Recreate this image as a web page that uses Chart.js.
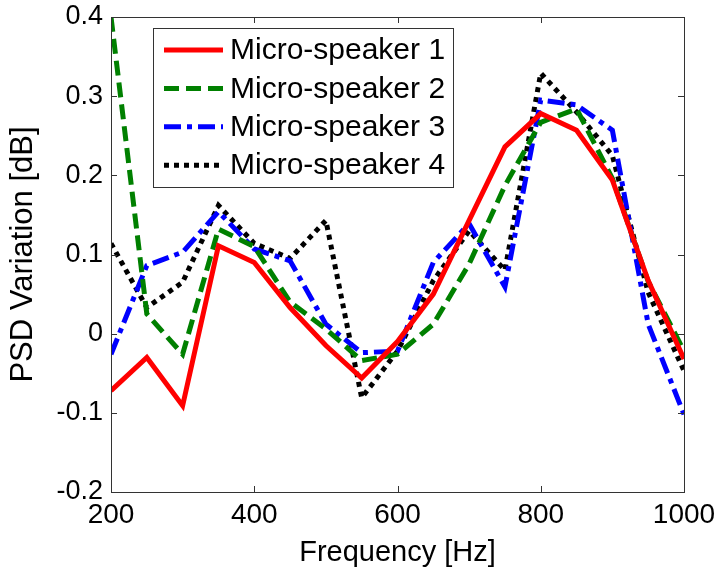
<!DOCTYPE html>
<html>
<head>
<meta charset="utf-8">
<script src="https://cdn.jsdelivr.net/npm/chart.js@4.4.1/dist/chart.umd.min.js"></script>
<style>
  html, body { margin: 0; padding: 0; background: #ffffff; }
  #wrap { width: 718px; height: 570px; position: relative; }
</style>
</head>
<body>
<div id="wrap"><canvas id="c" width="718" height="570"></canvas></div>
<script>
// ---- data ----
const frequencies = [200, 250, 300, 350, 400, 450, 500, 550, 600, 650, 700, 750, 800, 850, 900, 950, 1000];
const seriesNames = ['Micro-speaker 1', 'Micro-speaker 2', 'Micro-speaker 3', 'Micro-speaker 4'];
const speaker1 = [-0.072, -0.030, -0.091, 0.111, 0.090, 0.033, -0.015, -0.056, -0.010, 0.050, 0.143, 0.236, 0.278, 0.257, 0.194, 0.067, -0.032];
const speaker2 = [0.400, 0.025, -0.026, 0.132, 0.110, 0.040, 0.006, -0.034, -0.026, 0.012, 0.088, 0.187, 0.267, 0.284, 0.196, 0.066, -0.022];
const speaker3 = [-0.026, 0.086, 0.103, 0.154, 0.107, 0.092, 0.012, -0.024, -0.022, 0.090, 0.139, 0.059, 0.295, 0.289, 0.257, 0.012, -0.102];
const speaker4 = [0.114, 0.033, 0.065, 0.162, 0.114, 0.095, 0.143, -0.081, -0.022, 0.067, 0.130, 0.080, 0.329, 0.280, 0.225, 0.052, -0.047];
const xTickValues = [200, 400, 600, 800, 1000];
const xTickLabels = ['200', '400', '600', '800', '1000'];
const yTickValues = [-0.2, -0.1, 0, 0.1, 0.2, 0.3, 0.4];
const yTickLabels = ['-0.2', '-0.1', '0', '0.1', '0.2', '0.3', '0.4'];
const xTitle = 'Frequency [Hz]';
const yTitle = 'PSD Variation [dB]';

// ---- styles ----
const FONT = '"Liberation Sans", Arial, Helvetica, sans-serif';
const styles = [
  { color: '#ff0000', dash: [] },
  { color: '#008000', dash: [15, 7] },
  { color: '#0000ff', dash: [17, 6, 5, 6] },
  { color: '#000000', dash: [5, 5] }
];
const allSeries = [speaker1, speaker2, speaker3, speaker4];

const datasets = allSeries.map((vals, i) => ({
  label: seriesNames[i],
  data: frequencies.map((f, j) => ({ x: f, y: vals[j] })),
  borderColor: styles[i].color,
  backgroundColor: styles[i].color,
  borderDash: styles[i].dash,
  borderWidth: 5,
  borderCapStyle: 'butt',
  borderJoinStyle: 'miter',
  pointRadius: 0,
  tension: 0,
  fill: false
}));

// frame + inward ticks (MATLAB style), drawn through the scales
const framePlugin = {
  id: 'frame',
  afterDatasetsDraw(chart) {
    const { ctx, chartArea: a, scales } = chart;
    ctx.save();
    ctx.strokeStyle = '#333333';
    ctx.lineWidth = 1;
    ctx.setLineDash([]);
    ctx.strokeRect(Math.round(a.left) + 0.5, Math.round(a.top) + 0.5,
                   Math.round(a.right - a.left), Math.round(a.bottom - a.top));
    const tl = 6;
    ctx.beginPath();
    xTickValues.forEach(v => {
      const px = Math.round(scales.x.getPixelForValue(v)) + 0.5;
      ctx.moveTo(px, a.bottom); ctx.lineTo(px, a.bottom - tl);
      ctx.moveTo(px, a.top); ctx.lineTo(px, a.top + tl);
    });
    yTickValues.forEach(v => {
      const py = Math.round(scales.y.getPixelForValue(v)) + 0.5;
      ctx.moveTo(a.left, py); ctx.lineTo(a.left + tl, py);
      ctx.moveTo(a.right, py); ctx.lineTo(a.right - tl, py);
    });
    ctx.stroke();
    ctx.restore();
  }
};

// boxed legend inside the plot (upper left)
const legendPlugin = {
  id: 'boxLegend',
  afterDraw(chart) {
    const { ctx } = chart;
    const boxL = 153, boxT = 28, boxW = 300, boxH = 159;
    const rowH = 38.4, firstRow = 50;
    ctx.save();
    ctx.fillStyle = '#ffffff';
    ctx.fillRect(boxL, boxT, boxW, boxH);
    ctx.strokeStyle = '#333333';
    ctx.lineWidth = 1;
    ctx.setLineDash([]);
    ctx.strokeRect(boxL + 0.5, boxT + 0.5, boxW, boxH);
    chart.data.datasets.forEach((ds, i) => {
      const y = firstRow + i * rowH;
      ctx.beginPath();
      ctx.strokeStyle = ds.borderColor;
      ctx.lineWidth = ds.borderWidth;
      ctx.lineCap = 'butt';
      ctx.setLineDash(ds.borderDash);
      ctx.moveTo(164, y);
      ctx.lineTo(223, y);
      ctx.stroke();
      ctx.setLineDash([]);
      ctx.fillStyle = '#000000';
      ctx.font = '30px ' + FONT;
      ctx.textAlign = 'left';
      ctx.textBaseline = 'middle';
      ctx.fillText(ds.label, 230, y + 1);
    });
    ctx.restore();
  }
};

new Chart(document.getElementById('c'), {
  type: 'line',
  data: { datasets },
  options: {
    responsive: false,
    animation: false,
    devicePixelRatio: 1,
    layout: { padding: { left: 0, top: 17, right: 34, bottom: 0 } },
    plugins: {
      legend: { display: false },
      tooltip: { enabled: false }
    },
    scales: {
      x: {
        type: 'linear',
        min: 200, max: 1000,
        afterBuildTicks: s => { s.ticks = xTickValues.map(v => ({ value: v })); },
        afterFit: s => { s.height = 78; s.paddingLeft = 0; s.paddingRight = 0; },
        grid: { display: false, drawTicks: false },
        border: { display: false },
        ticks: {
          color: '#000000',
          font: { family: FONT, size: 28 },
          padding: 6,
          maxRotation: 0,
          autoSkip: false,
          callback: (v, i) => xTickLabels[i]
        },
        title: {
          display: true, text: xTitle, color: '#000000',
          font: { family: FONT, size: 29 },
          padding: { top: 4, bottom: 0 }
        }
      },
      y: {
        type: 'linear',
        min: -0.2, max: 0.4,
        afterBuildTicks: s => { s.ticks = yTickValues.map(v => ({ value: v })); },
        afterFit: s => { s.width = 111; s.paddingTop = 0; s.paddingBottom = 0; },
        grid: { display: false, drawTicks: false },
        border: { display: false },
        ticks: {
          color: '#000000',
          font: { family: FONT, size: 27 },
          padding: 8,
          autoSkip: false,
          callback: (v, i) => yTickLabels[i]
        },
        title: {
          display: true, text: yTitle, color: '#000000',
          font: { family: FONT, size: 31 },
          padding: { top: 5, bottom: 0 }
        }
      }
    }
  },
  plugins: [framePlugin, legendPlugin]
});
</script>
</body>
</html>
